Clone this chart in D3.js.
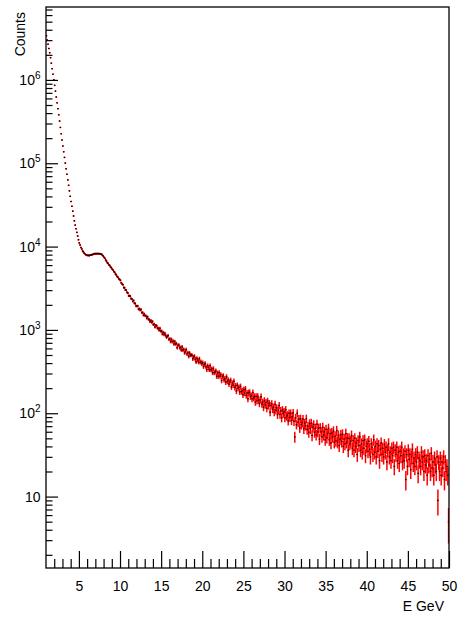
<!DOCTYPE html>
<html><head><meta charset="utf-8">
<script src="https://cdn.jsdelivr.net/npm/d3@7"></script>
<style>
body{margin:0;background:#fff}
svg{display:block}
text{font-family:"Liberation Sans",Arial,Helvetica,sans-serif;fill:#000}
</style>
</head><body>
<svg id="chart" width="458" height="619"></svg>
<script>
// ---------- data ----------
const xDomain = [1, 50];          // E GeV axis range
const yDomain = [1.39, 7.5e6];    // Counts axis range (log)
const nBins = 490;                // 0.1 GeV bins from 1 to 50
const xTitle = "E GeV";
const yTitle = "Counts";
const xMajorTicks = [5, 10, 15, 20, 25, 30, 35, 40, 45, 50];
const xTickLabels = ["5", "10", "15", "20", "25", "30", "35", "40", "45", "50"];
const yMajorTicks = [10, 100, 1000, 10000, 100000, 1000000];
const yTickBase = ["10", "10", "10", "10", "10", "10"];
const yTickExp = ["", "2", "3", "4", "5", "6"];

// counts per bin (bins 1.0-5.0 GeV)
const countsSteep = [
  3388000, 3013000, 2679000, 2382000, 2118000, 1849000, 1589000, 1365000, 1172000, 1007000,
  861000, 733000, 624000, 531000, 452000, 382000, 321000, 269000, 226000, 190000,
  161000, 137400, 117500, 100500, 85900, 73600, 63200, 54300, 46700, 40100,
  34750, 30400, 26600, 23300, 20400, 18100, 16400, 14800, 13400, 12100
];
// bins 5.0-10.0 GeV (shoulder)
const countsShoulder = [
  11090, 10470, 9741, 9360, 8880, 8624, 8330, 8152, 7990, 7931,
  7822, 7861, 7790, 7898, 7902, 8011, 8002, 8120, 8118, 8236,
  8195, 8251, 8210, 8254, 8190, 8229, 8120, 8101, 7896, 7722,
  7437, 7240, 6905, 6699, 6415, 6280, 6052, 5931, 5700, 5577,
  5355, 5240, 5019, 4903, 4684, 4577, 4370, 4282, 4105, 4025
];
// bins 10.0-20.0 GeV
const countsMid = [
  3932, 3676, 3569, 3489, 3227, 3206, 3022, 3016, 2825, 2771,
  2561, 2579, 2533, 2375, 2338, 2202, 2253, 2095, 2073, 1941,
  1933, 1931, 1774, 1799, 1728, 1760, 1617, 1615, 1501, 1556,
  1483, 1473, 1383, 1438, 1341, 1328, 1256, 1299, 1231, 1263,
  1161, 1169, 1083, 1132, 1121, 1052, 1045, 990, 1045, 970,
  968, 896, 938, 880, 913, 859, 815, 836, 855, 773,
  778, 725, 773, 724, 736, 678, 726, 677, 687, 613,
  655, 659, 611, 617, 576, 625, 573, 584, 531, 553,
  581, 515, 532, 482, 529, 497, 502, 496, 450, 472,
  484, 445, 414, 456, 435, 411, 451, 409, 416, 394
];
// bins 20.0-50.0 GeV (tail)
const countsTail = [
  405, 363, 385, 396, 361, 334, 373, 354, 334, 372,
  332, 340, 308, 344, 307, 311, 322, 278, 304, 278,
  308, 279, 291, 247, 275, 282, 252, 261, 236, 274,
  240, 251, 224, 237, 249, 207, 230, 218, 242, 204,
  214, 185, 217, 200, 205, 181, 210, 182, 186, 167,
  192, 175, 196, 164, 175, 149, 176, 179, 159, 163,
  149, 177, 153, 159, 136, 159, 141, 159, 144, 131,
  145, 158, 129, 136, 118, 142, 126, 135, 115, 140,
  123, 131, 103, 124, 130, 112, 118, 103, 128, 109,
  116, 96, 109, 124, 97, 107, 88, 110, 99, 104,
  88, 110, 92, 95, 81, 100, 89, 100, 82, 91,
  101, 80, 52, 88, 73, 100, 78, 85, 67, 86,
  73, 77, 85, 65, 76, 71, 86, 64, 70, 59,
  75, 65, 76, 54, 68, 73, 59, 66, 55, 74,
  60, 66, 49, 67, 60, 52, 68, 55, 60, 48,
  64, 51, 57, 66, 48, 57, 44, 58, 52, 61,
  45, 53, 47, 62, 45, 54, 41, 49, 55, 46,
  56, 40, 49, 43, 57, 45, 50, 36, 50, 43,
  46, 54, 38, 47, 36, 50, 40, 44, 32, 47,
  41, 52, 36, 43, 34, 47, 38, 48, 31, 40,
  43, 35, 46, 37, 30, 43, 39, 32, 48, 34,
  40, 30, 43, 35, 41, 27, 37, 44, 32, 38,
  30, 42, 34, 39, 26, 36, 43, 30, 34, 27,
  38, 31, 39, 23, 36, 32, 39, 27, 34, 25,
  35, 31, 39, 26, 32, 27, 35, 16, 32, 23,
  36, 28, 32, 21, 30, 37, 25, 29, 23, 32,
  26, 34, 19, 29, 27, 23, 34, 26, 30, 20,
  31, 24, 27, 18, 31, 24, 28, 20, 33, 22,
  26, 18, 29, 24, 20, 30, 9, 26, 20, 29,
  18, 26, 22, 30, 16, 26, 20, 23, 18, 5
];

// ---------- drawing ----------
const counts = countsSteep.concat(countsShoulder, countsMid, countsTail);
const binW = (xDomain[1] - xDomain[0]) / nBins;
const bins = counts.map((c, i) => ({
  x: xDomain[0] + binW * (i + 0.5),
  y: c,
  e: Math.sqrt(c)
}));

const frame = {left: 46, right: 449, top: 7, bottom: 568};
const svg = d3.select("#chart");
const x = d3.scaleLinear().domain(xDomain).range([frame.left, frame.right]);
const y = d3.scaleLog().domain(yDomain).range([frame.bottom, frame.top]);

svg.append("rect").attr("width", 458).attr("height", 619).attr("fill", "#fff");

svg.append("defs").append("clipPath").attr("id", "clip")
  .append("rect")
  .attr("x", frame.left).attr("y", frame.top)
  .attr("width", frame.right - frame.left).attr("height", frame.bottom - frame.top);

// data
const gData = svg.append("g").attr("clip-path", "url(#clip)");
const yMin = yDomain[0] * 0.5;
gData.selectAll("line.ev").data(bins).enter().append("line")
  .attr("class", "ev")
  .attr("x1", d => x(d.x)).attr("x2", d => x(d.x))
  .attr("y1", d => y(Math.max(yMin, d.y - d.e)) + 0.4)
  .attr("y2", d => y(d.y + d.e) - 0.4)
  .attr("stroke", "#ff0000").attr("stroke-width", 1.5);
gData.selectAll("line.eh").data(bins).enter().append("line")
  .attr("class", "eh")
  .attr("x1", d => x(d.x - binW / 2) - 0.4).attr("x2", d => x(d.x + binW / 2) + 0.4)
  .attr("y1", d => y(d.y)).attr("y2", d => y(d.y))
  .attr("stroke", "#ff0000").attr("stroke-width", 1.5);
gData.selectAll("rect.pt").data(bins).enter().append("rect")
  .attr("class", "pt")
  .attr("x", d => x(d.x) - 0.6).attr("y", d => y(d.y) - 0.6)
  .attr("width", 1.2).attr("height", 1.2)
  .attr("fill", "#000");

// axes (ticks inside)
const xMinor = d3.range(Math.ceil(xDomain[0]) + 1, xDomain[1]).filter(v => xMajorTicks.indexOf(v) < 0);
const gx = svg.append("g").attr("transform", `translate(0,${frame.bottom})`)
  .call(d3.axisBottom(x).tickValues(xMajorTicks).tickSize(-17).tickSizeOuter(0).tickPadding(13)
    .tickFormat((d, i) => xTickLabels[i]));
gx.select(".domain").remove();
gx.selectAll("text").attr("font-size", 14).style("font-family", '"Liberation Sans",Arial,sans-serif');
const gxm = svg.append("g").attr("transform", `translate(0,${frame.bottom})`)
  .call(d3.axisBottom(x).tickValues(xMinor).tickSize(-9).tickSizeOuter(0).tickFormat(""));
gxm.select(".domain").remove();

const yMinor = [];
for (let p = 0; p <= 6; p++) {
  for (let k = 2; k <= 9; k++) {
    const v = k * Math.pow(10, p);
    if (v > yDomain[0] && v < yDomain[1]) yMinor.push(v);
  }
}
const gy = svg.append("g").attr("transform", `translate(${frame.left},0)`)
  .call(d3.axisLeft(y).tickValues(yMajorTicks).tickSize(-12).tickSizeOuter(0).tickFormat(""));
gy.select(".domain").remove();
const gym = svg.append("g").attr("transform", `translate(${frame.left},0)`)
  .call(d3.axisLeft(y).tickValues(yMinor).tickSize(-6.5).tickSizeOuter(0).tickFormat(""));
gym.select(".domain").remove();
svg.selectAll(".tick line").attr("stroke", "#000").attr("stroke-width", 1.2);

// y tick labels with superscripts
const yl = svg.append("g");
yMajorTicks.forEach((v, i) => {
  const t = yl.append("text")
    .attr("x", 40.5).attr("y", y(v) + 5)
    .attr("text-anchor", "end").attr("font-size", 14);
  t.append("tspan").text(yTickBase[i]);
  if (yTickExp[i]) {
    t.append("tspan").attr("font-size", 10).attr("dy", -6).text(yTickExp[i]);
  }
});

// frame
svg.append("rect")
  .attr("x", frame.left).attr("y", frame.top)
  .attr("width", frame.right - frame.left).attr("height", frame.bottom - frame.top)
  .attr("fill", "none").attr("stroke", "#000").attr("stroke-width", 1.3);

// titles
svg.append("text").attr("x", 444).attr("y", 611).attr("text-anchor", "end")
  .attr("font-size", 14).text(xTitle);
svg.append("text").attr("transform", "translate(25,12) rotate(-90)")
  .attr("text-anchor", "end").attr("font-size", 14).text(yTitle);
</script>
</body></html>
